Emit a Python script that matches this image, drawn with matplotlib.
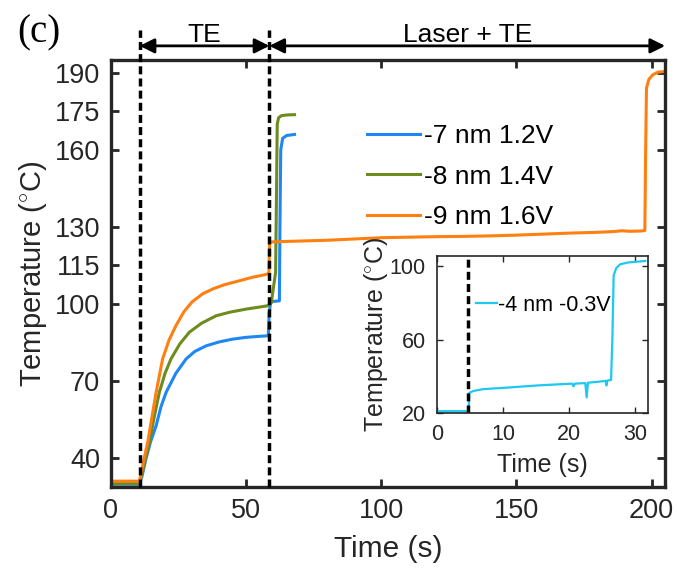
import matplotlib
matplotlib.use('Agg')
import matplotlib.pyplot as plt

plt.rcParams['font.family'] = ['Liberation Sans', 'DejaVu Sans']
plt.rcParams['mathtext.fontset'] = 'custom'
plt.rcParams['mathtext.rm'] = 'Liberation Sans'

# main data
t_blue = [0, 5, 10.5, 11.5, 13, 14.6, 16.7, 18.5, 20.4, 24, 27.8, 31, 35.2, 40, 45, 50, 55, 58.2,
          58.5, 59, 60, 62.3, 62.5, 62.8, 63.5, 65, 67.9]
T_blue = [29.8, 29.8, 29.8, 33, 40, 46.2, 52.6, 60, 65.6, 73, 78.6, 81.5, 83.7, 85.2, 86.3, 87, 87.4, 87.6,
          96, 100.5, 101, 101.2, 130, 160, 164.5, 165.6, 166]

t_green = [0, 5, 10.5, 11.5, 12.8, 14.2, 16, 17.9, 20, 22.2, 25.5, 29, 33.5, 38.9, 44, 50, 55, 58,
           59.3, 60.9, 61.2, 61.5, 62, 63, 65, 67.9]
T_green = [30, 30, 30, 34, 40, 46.2, 56, 65.6, 73, 78.6, 84.5, 89, 92.5, 95.4, 96.8, 98, 98.8, 99.3,
           100.5, 112.3, 140, 170, 172.5, 173.3, 173.6, 173.7]

t_orange = [0, 5, 10.5, 11.5, 12.5, 13.6, 15, 16.7, 19.1, 21.5, 24, 27, 30, 34, 38, 42, 47.4, 52, 57.4,
            58.4, 58.7, 60, 70, 80, 90, 100, 110, 120, 130, 140, 150, 160, 170, 180, 186, 189, 192, 196,
            197.5, 197.8, 198.1, 199, 200.5, 202.5, 205]
T_orange = [31, 31, 31, 36, 41, 46.2, 55, 65.6, 78.6, 86, 91.5, 97, 100.8, 104, 106, 107.5, 109, 110.3, 111.5,
            112, 124, 124.2, 124.5, 124.8, 125.3, 125.8, 126, 126.2, 126.3, 126.5, 126.8, 127.2, 127.6, 127.9,
            128.2, 128.5, 128.3, 128.4, 128.6, 160, 184, 187.5, 189.3, 190.3, 190.5]

labels = ['-7 nm 1.2V', '-8 nm 1.4V', '-9 nm 1.6V']
colors = ['#1f86f5', '#6e8b1f', '#ff7f10']

# inset data
t_cyan = [0, 2, 4.8, 4.9, 5.5, 7, 10.5, 15.6, 20.5, 20.7, 20.9, 22.5, 22.7, 22.9, 24.4, 25.6, 25.7,
          25.8, 26.4, 26.6, 26.8, 27.2, 27.8, 29, 31.6]
T_cyan = [21, 21, 21, 31, 32, 33, 33.8, 35.1, 36, 34.5, 36, 36.3, 28.5, 36.5, 37, 37.5, 35,
          37.6, 38, 60, 95, 99, 101, 102, 102.8]
inset_label = '-4 nm -0.3V'

te_start = 10.6
te_end = 58.6
inset_start = 4.7

ink = '#262626'
dash = (0, (2.3, 1.2))

fig = plt.figure(figsize=(6.78, 5.73), dpi=100)
ax = fig.add_axes([0.1637, 0.150, 0.8173, 0.7453])

for t, T, c, lab in zip([t_blue, t_green, t_orange], [T_blue, T_green, T_orange], colors, labels):
    ax.plot(t, T, color=c, lw=2.2, label=lab)

ax.set_xlim(0, 205)
ax.set_ylim(28.7, 195)
ax.set_xticks([0, 50, 100, 150, 200])
ax.set_yticks([40, 70, 100, 115, 130, 160, 175, 190])
ax.tick_params(direction='in', length=6, width=2, top=True, right=True, labelsize=19.5,
               colors=ink, pad=8)
for s in ax.spines.values():
    s.set_linewidth(2.4)
    s.set_color(ink)
ax.set_xlabel('Time (s)', fontsize=21.5, color=ink, labelpad=8)
ax.set_ylabel(r'Temperature ($^{\circ}$C)', fontsize=21, color=ink, labelpad=4)

# dashed markers and the arrows above the plot
for x in [te_start, te_end]:
    ax.plot([x, x], [28.7, 206.7], color='black', lw=2.5, ls=dash, clip_on=False, zorder=5)
for x0, x1 in [(te_start, te_end), (te_end, 205)]:
    ax.annotate('', xy=(x0, 200.5), xytext=(x1, 200.5), annotation_clip=False,
                arrowprops=dict(arrowstyle='<|-|>', color='black', lw=2, mutation_scale=22,
                                shrinkA=0, shrinkB=0))
ax.text((te_start + te_end) / 2, 202.0, 'TE', ha='center', va='baseline', fontsize=19, color='black')
ax.text((te_end + 205) / 2, 202.0, 'Laser + TE', ha='center', va='baseline', fontsize=19, color='black')
fig.text(0.026, 0.942, '(c)', family='Liberation Serif', fontsize=28, va='center', ha='left')

leg = ax.legend(loc='upper left', bbox_to_anchor=(0.42, 0.905), frameon=False, fontsize=19,
                handlelength=2.0, handletextpad=0.15, labelspacing=0.62)
for txt in leg.get_texts():
    txt.set_color('black')

# inset
axi = fig.add_axes([0.6445, 0.2792, 0.3112, 0.274])
axi.plot(t_cyan, T_cyan, color='#1ec8f0', lw=1.6, label=inset_label)
axi.plot([inset_start, inset_start], [20, 105.5], color='black', lw=2.5, ls=dash)
axi.set_xlim(0, 32)
axi.set_ylim(20, 105.5)
axi.set_xticks([0, 10, 20, 30])
axi.set_yticks([20, 60, 100])
axi.tick_params(direction='in', length=4, width=1, top=True, right=True, labelsize=15.5,
                colors=ink, pad=8)
for s in axi.spines.values():
    s.set_linewidth(1.2)
    s.set_color(ink)
axi.set_xlabel('Time (s)', fontsize=18, color=ink, labelpad=6)
axi.set_ylabel(r'Temperature ($^{\circ}$C)', fontsize=18, color=ink, labelpad=0)
axi.legend(loc='upper left', bbox_to_anchor=(0.092, 0.875), frameon=False, fontsize=15.5,
           handlelength=1.0, handletextpad=0.05)

fig.savefig('out.png', dpi=100)
